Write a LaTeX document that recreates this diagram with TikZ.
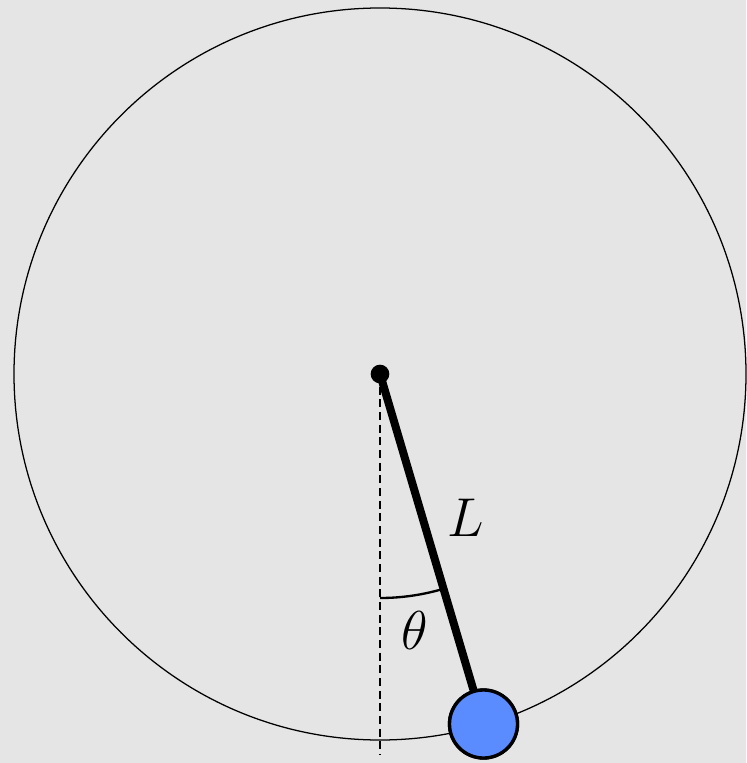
\documentclass[tikz,border=0pt]{standalone}
\definecolor{bg}{HTML}{E5E5E5}
\definecolor{bobblue}{HTML}{5B8CFF}
\newcommand{\biglab}[1]{\scalebox{1.65}{\Huge$#1$}}
\begin{document}
\begin{tikzpicture}[x=0.75pt,y=-0.75pt,
  orbit/.style={draw=black,line width=0.95pt},
  plumb/.style={line width=1.9pt,dash pattern=on 6pt off 3.5pt},
  rod/.style={line width=6pt},
  anglearc/.style={line width=1.75pt},
  bobnode/.style={circle,draw=black,fill=bobblue,line width=2.5pt,minimum size=51pt,inner sep=0pt},
  pivotdot/.style={circle,fill=black,minimum size=14pt,inner sep=0pt},
  lab/.style={inner sep=0pt}]
\fill[bg] (0,0) rectangle (746,763);
\useasboundingbox (0,0) rectangle (746,763);
\coordinate (P) at (380,374);
\coordinate (D) at (380,755);
\coordinate (A0) at (380,598);
\draw[orbit] (P) circle[radius=274.5pt];
\draw[plumb] (P) -- (D);
\draw[anglearc] (A0) arc[start angle=-90,end angle=-73.5,radius=168pt];
\node[bobnode] (B) at (483.5,724) {};
\draw[rod] (P) -- (B.center);
\node[bobnode] (B2) at (B) {};
\node[pivotdot] (PD) at (P) {};
\node[lab] (Lab) at (466,518) {\biglab{L}};
\node[lab] (Th) at (415,630) {\biglab{\theta}};
\end{tikzpicture}
\end{document}
